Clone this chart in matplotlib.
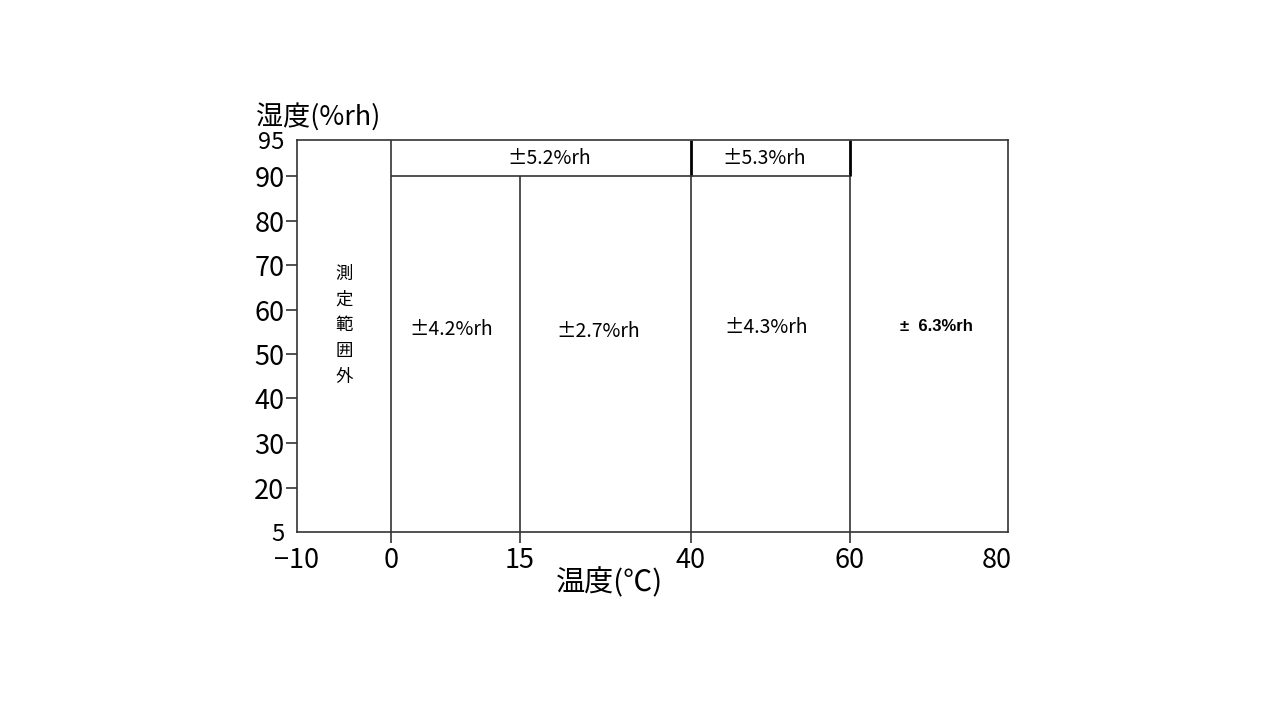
import numpy as np
import matplotlib
matplotlib.use("Agg")
from matplotlib import pyplot as plt
from matplotlib.transforms import ScaledTranslation

plt.rcParams['font.family'] = ['Noto Sans CJK JP', 'DejaVu Sans']

# axis breakpoints (the chart is not drawn to a linear scale)
temp_ticks = [-10, 0, 15, 40, 60, 80]
temp_pos = [0, 94, 223, 394, 553, 711]
hum_ticks = [5, 20, 30, 40, 50, 60, 70, 80, 90, 95]
hum_pos = [0, 44, 89, 134, 178, 222, 267, 311, 356, 392]

# accuracy zones: (t_lo, t_hi, h_lo, h_hi, label)
zone_t_lo = [0, 15, 40, 60, 0, 40]
zone_t_hi = [15, 40, 60, 80, 40, 60]
zone_h_lo = [5, 5, 5, 5, 90, 90]
zone_h_hi = [90, 90, 90, 95, 95, 95]
zone_labels = ['±4.2%rh', '±2.7%rh', '±4.3%rh', '±  6.3%rh', '±5.2%rh', '±5.3%rh']
# small nudges (px) of the labels from the zone centre
zone_dx = [-4, -7, -4, 7, -5, -6]
zone_dy = [-2, -4, 0, 1, 0, 0]
out_label = '測定範囲外'


def fx(v):
    return np.interp(v, temp_ticks, temp_pos)


def fx_inv(p):
    return np.interp(p, temp_pos, temp_ticks)


def fy(v):
    return np.interp(v, hum_ticks, hum_pos)


def fy_inv(p):
    return np.interp(p, hum_pos, hum_ticks)


fig = plt.figure(figsize=(12.8, 7.2), dpi=100)
ax = fig.add_axes([297/1280, 1-532/720, (1008-297)/1280, (532-140)/720])
ax.set_xscale('function', functions=(fx, fx_inv))
ax.set_yscale('function', functions=(fy, fy_inv))
ax.set_xlim(-10, 80)
ax.set_ylim(5, 95)

lc = '#333333'
# boundary lines
ax.vlines(0, 5, 95, color=lc, lw=1.2)
ax.vlines(15, 5, 90, color=lc, lw=1.2)
ax.vlines(40, 5, 90, color=lc, lw=1.2)
ax.vlines(40, 90, 95, color='black', lw=2.0)
ax.vlines(60, 5, 90, color=lc, lw=1.2)
ax.vlines(60, 90, 95, color='black', lw=2.0)
ax.hlines(90, 0, 60, color=lc, lw=1.2)

for t0, t1, h0, h1, lab, dx, dy in zip(zone_t_lo, zone_t_hi, zone_h_lo, zone_h_hi,
                                       zone_labels, zone_dx, zone_dy):
    xm = (t0 + t1) / 2
    ym = 92.5 if h0 == 90 else 56
    off = ax.transData + ScaledTranslation(dx/100, dy/100, fig.dpi_scale_trans)
    if lab.startswith('±  6'):
        ax.text(xm, ym, lab, ha='center', va='center', fontsize=12,
                fontweight='bold', family=['Liberation Sans', 'DejaVu Sans'],
                transform=off)
    else:
        ax.text(xm, ym, lab, ha='center', va='center', fontsize=14,
                transform=off)

ax.text(-5, 56.5, '\n'.join(out_label), ha='center', va='center', fontsize=12.5,
        linespacing=1.55)

for s in ax.spines.values():
    s.set_color(lc)
    s.set_linewidth(1.2)

ax.set_xticks(temp_ticks)
ax.set_xticklabels(['−10', '0', '15', '40', '60', '80'])
ax.set_yticks(hum_ticks)
ax.set_yticklabels([str(h) for h in hum_ticks])
ax.tick_params(axis='both', direction='out', length=8, width=1.2, color=lc,
               labelsize=19.5, pad=1)
ax.tick_params(axis='x', pad=3)
# no tick marks at the corners
for i in (0, len(temp_ticks) - 1):
    ax.xaxis.get_major_ticks()[i].tick1line.set_visible(False)
for i in (0, len(hum_ticks) - 1):
    ax.yaxis.get_major_ticks()[i].tick1line.set_visible(False)
for lab in ax.get_yticklabels()[::len(hum_ticks) - 1]:
    lab.set_fontsize(17)
last = ax.get_xticklabels()[-1]
last.set_transform(last.get_transform() + ScaledTranslation(-0.11, 0, fig.dpi_scale_trans))

fig.text(256/1280, 1-117/720, '湿度(%rh)', fontsize=19.5, ha='left', va='center')
fig.text(609/1280, 1-583/720, '温度(℃)', fontsize=21, ha='center', va='center')

plt.savefig('out.png', dpi=100)
